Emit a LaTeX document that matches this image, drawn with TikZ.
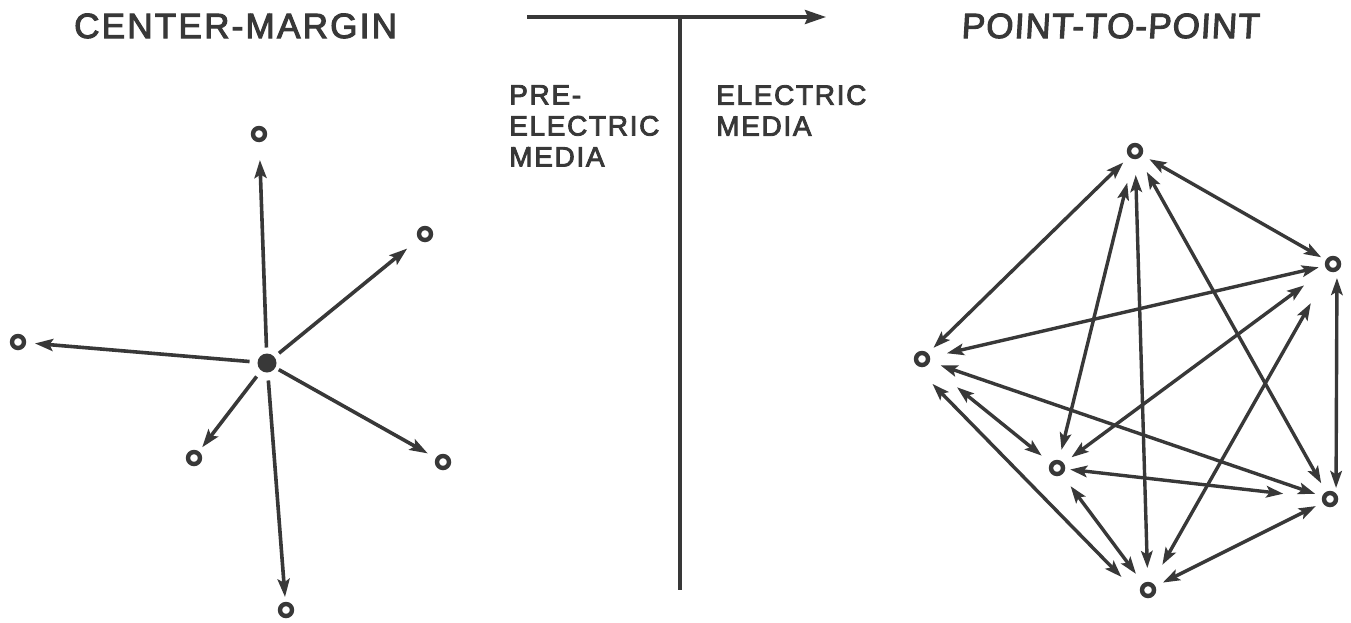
\documentclass[tikz,border=0pt]{standalone}
\usepackage{fontspec}
\setmainfont{Liberation Sans}
\newfontfamily\titlefontA[LetterSpace=6.5,FakeBold=3]{Liberation Sans}
\newfontfamily\titlefontB[LetterSpace=3.2,FakeBold=3,FakeSlant=0.06]{Liberation Sans}
\newfontfamily\labelfontX[LetterSpace=6,FakeBold=3]{Liberation Sans}
\usetikzlibrary{arrows.meta}
\definecolor{ink}{RGB}{56,56,56}
\begin{document}
\begin{tikzpicture}[x=1pt,y=-1pt,
  pt/.style={circle,draw=ink,line width=4.4pt,minimum size=12pt,inner sep=0pt,outer sep=0pt},
  hub/.style={circle,fill=ink,minimum size=19pt,inner sep=0pt,outer sep=0pt},
  ray/.style={draw=ink,line width=3.6pt,-{Stealth[length=18pt,width=12pt,inset=3.5pt]}},
  dbl/.style={draw=ink,line width=3.4pt,{Stealth[length=17pt,width=11.5pt,inset=3.5pt]}-{Stealth[length=17pt,width=11.5pt,inset=3.5pt]}},
  title/.style={anchor=base west,inner sep=0pt,text=ink},
  label/.style={anchor=north west,align=left,inner sep=0pt,text=ink,font=\labelfontX\fontsize{28}{31}\selectfont}
]
\useasboundingbox[fill=white] (0,0) rectangle (1351,622);

% titles
\node[title,font=\titlefontA\fontsize{35}{40}\selectfont] (tl) at (74,38) {CENTER-MARGIN};
\node[title,font=\titlefontB\fontsize{35}{40}\selectfont] (tr) at (961,38) {POINT-TO-POINT};

% centre-margin star
\node[hub] (O) at (267,363) {};
\node[pt] (t1) at (259,134) {};
\node[pt] (t2) at (425,234) {};
\node[pt] (t3) at (18,342) {};
\node[pt] (t4) at (194,458) {};
\node[pt] (t5) at (443,462) {};
\node[pt] (t6) at (286,610) {};
\draw[ray,shorten <=6pt,shorten >=20pt] (O) -- (t1);
\draw[ray,shorten <=6pt,shorten >=17pt] (O) -- (t2);
\draw[ray,shorten <=8pt,shorten >=11pt] (O) -- (t3);
\draw[ray,shorten <=7.5pt,shorten >=7.5pt] (O) -- (t4);
\draw[ray,shorten <=4pt,shorten >=11.5pt] (O) -- (t5);
\draw[ray,shorten <=8pt,shorten >=7pt] (O) -- (t6);

% time axis
\coordinate (hL) at (527,17);
\coordinate (hR) at (826,17);
\coordinate (vT) at (680,17);
\coordinate (vB) at (680,590);
\draw[draw=ink,line width=3.6pt,-{Stealth[length=21pt,width=14pt,inset=3pt]}] (hL) -- (hR);
\draw[draw=ink,line width=3.6pt] (vT) -- (vB);
\node[label] (pre) at (509,85) {PRE-\\ELECTRIC\\MEDIA};
\node[label] (el) at (716,85) {ELECTRIC\\MEDIA};

% point-to-point network
\node[pt] (A) at (1135,151) {};
\node[pt] (B) at (1333,264) {};
\node[pt] (C) at (922,359) {};
\node[pt] (D) at (1057,468) {};
\node[pt] (E) at (1330,499) {};
\node[pt] (F) at (1148,590) {};
\draw[dbl,shorten <=10.5pt,shorten >=10pt] (A) -- (C);
\draw[dbl,shorten <=26.6pt,shorten >=12.7pt] (A) -- (D);
\draw[dbl,shorten <=18pt,shorten >=16pt] (A) -- (F);
\draw[dbl,shorten <=18pt,shorten >=12pt] (A) -- (E);
\draw[dbl,shorten <=10.5pt,shorten >=7.6pt] (A) -- (B);
\draw[dbl,shorten <=8.6pt,shorten >=19.5pt] (B) -- (C);
\draw[dbl,shorten <=30pt,shorten >=12pt] (B) -- (D);
\draw[dbl,shorten <=39pt,shorten >=23pt] (B) -- (F);
\draw[dbl,shorten <=39pt,shorten >=13.7pt] (C) -- (D);
\draw[dbl,shorten <=13.7pt,shorten >=9.5pt] (C) -- (E);
\draw[dbl,shorten <=25pt,shorten >=28pt] ([shift={(-7,7)}]C.center) -- ([shift={(-7,7)}]F.center);
\draw[dbl,shorten <=7.2pt,shorten >=41pt] (D) -- (E);
\draw[dbl,shorten <=16.7pt,shorten >=14.2pt] (D) -- (F);
\draw[dbl,shorten <=9.8pt,shorten >=10.6pt] (E) -- (F);
\draw[dbl,shorten <=14pt,shorten >=11pt] ([xshift=4pt]B.center) -- ([xshift=6pt]E.center);
\end{tikzpicture}
\end{document}
